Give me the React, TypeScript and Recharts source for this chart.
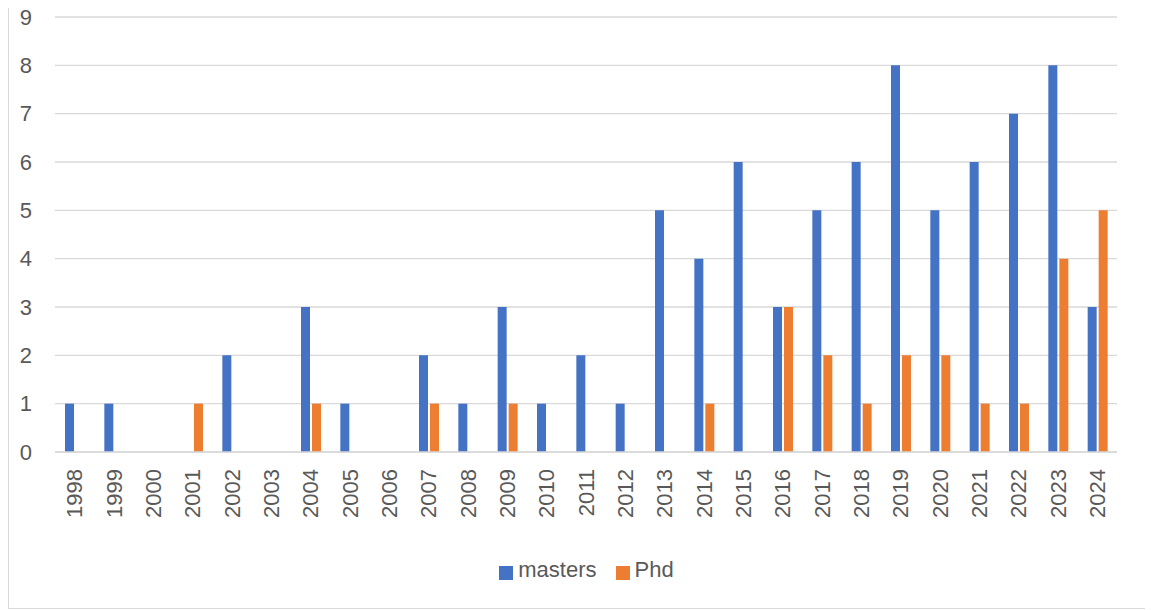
// Theses completed per year, split into masters and PhD, as a grouped column chart.
import { Bar, BarChart, CartesianGrid, Legend, XAxis, YAxis } from "recharts";

const years = [
  "1998", "1999", "2000", "2001", "2002", "2003", "2004", "2005", "2006",
  "2007", "2008", "2009", "2010", "2011", "2012", "2013", "2014", "2015",
  "2016", "2017", "2018", "2019", "2020", "2021", "2022", "2023", "2024",
];
const masters = [1, 1, 0, 0, 2, 0, 3, 1, 0, 2, 1, 3, 1, 2, 1, 5, 4, 6, 3, 5, 6, 8, 5, 6, 7, 8, 3];
const phd = [0, 0, 0, 1, 0, 0, 1, 0, 0, 1, 0, 1, 0, 0, 0, 0, 1, 0, 3, 2, 1, 2, 2, 1, 1, 4, 5];
const yTicks = [0, 1, 2, 3, 4, 5, 6, 7, 8, 9];
const seriesOrder = ["masters", "Phd"];

const data = years.map((year, i) => ({ year, masters: masters[i], Phd: phd[i] }));

const FONT = "'Liberation Sans', Arial, sans-serif";
const TEXT = "#595959";

function YearTick({ x, y, payload }: any) {
  return (
    <g transform={`translate(${x},${y})`}>
      <text
        x={0}
        y={0}
        transform="rotate(-90)"
        textAnchor="end"
        dominantBaseline="central"
        fill={TEXT}
        fontSize={22}
        fontFamily={FONT}
      >
        {payload.value}
      </text>
    </g>
  );
}

export default function App() {
  return (
    <div style={{ marginLeft: 0, marginTop: -5, width: 1142, height: 604, border: "1px solid #d9d9d9", background: "#fff" }}>
      <BarChart
        width={1142}
        height={604}
        data={data}
        barSize={9}
        barGap={2}
        margin={{ top: 13, right: 34, bottom: 25, left: 0 }}
      >
        <CartesianGrid vertical={false} stroke="#d9d9d9" strokeWidth={1.3} />
        <XAxis
          dataKey="year"
          interval={0}
          tickLine={false}
          axisLine={{ stroke: "#d9d9d9", strokeWidth: 1.3 }}
          tickSize={0}
          tickMargin={17}
          height={105}
          tick={<YearTick />}
        />
        <YAxis
          domain={[0, 9]}
          ticks={yTicks}
          interval={0}
          width={46}
          tickLine={false}
          axisLine={false}
          tickSize={0}
          tickMargin={23}
          tick={{ fill: TEXT, fontSize: 22, fontFamily: FONT }}
        />
        <Legend
          verticalAlign="bottom"
          align="center"
          iconType="square"
          iconSize={14}
          wrapperStyle={{ left: 46, width: 1062, paddingLeft: 10 }}
          itemSorter={(item: any) => seriesOrder.indexOf(String(item.dataKey))}
          formatter={(value) => (
            <span style={{ color: TEXT, fontSize: 22, fontFamily: FONT, marginLeft: 1, marginRight: 9 }}>{value}</span>
          )}
        />
        <Bar dataKey="masters" name="masters" fill="#4472C4" isAnimationActive={false} />
        <Bar dataKey="Phd" name="Phd" fill="#ED7D31" isAnimationActive={false} />
      </BarChart>
    </div>
  );
}
